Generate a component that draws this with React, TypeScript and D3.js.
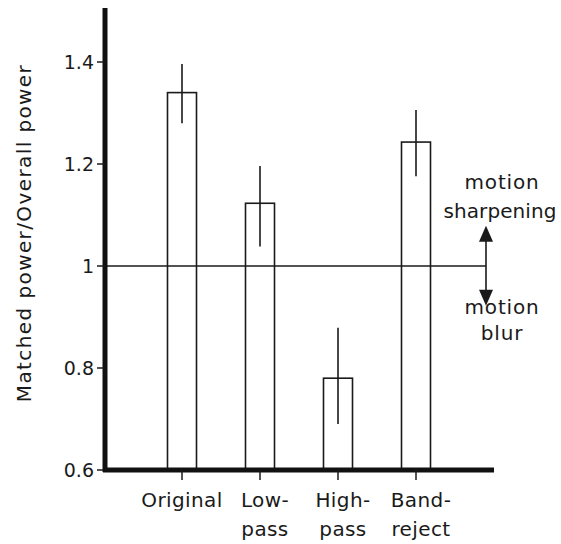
import React, { useRef, useEffect } from 'react';
import { select, scaleLinear, scalePoint } from 'd3';

// conditions and their mean ratio (matched power / overall power)
const categories = ['Original', 'Low-pass', 'High-pass', 'Band-reject'];
const labelLines = [['Original'], ['Low-', 'pass'], ['High-', 'pass'], ['Band-', 'reject']];
const means = [1.34, 1.123, 0.78, 1.243];
const errLow = [1.28, 1.038, 0.69, 1.176];
const errHigh = [1.396, 1.196, 0.879, 1.306];
const yTicks = [0.6, 0.8, 1, 1.2, 1.4];
const yTickLabels = ['0.6', '0.8', '1', '1.2', '1.4'];

const FONT = '"DejaVu Sans", sans-serif';
const INK = '#1a1a1a';

const App = () => {
  const svgRef = useRef<SVGSVGElement>(null);

  useEffect(() => {
    const svg = select(svgRef.current);
    svg.selectAll('*').remove();

    const x = scalePoint().domain(categories).range([182, 416]);
    const y = scaleLinear().domain([0.6, 1.5]).range([470, 11]);
    const barW = 29;
    const axisLeft = 105;
    const axisRight = 494;

    /* bars */
    svg.selectAll('.bar')
      .data(categories)
      .join('rect')
      .attr('class', 'bar')
      .attr('x', d => x(d)! - barW / 2)
      .attr('y', (_, i) => y(means[i]))
      .attr('width', barW)
      .attr('height', (_, i) => y(0.6) - y(means[i]))
      .attr('fill', 'white')
      .attr('stroke', INK)
      .attr('stroke-width', 1.6);

    /* error bars, no caps */
    svg.selectAll('.err')
      .data(categories)
      .join('line')
      .attr('class', 'err')
      .attr('x1', d => x(d)!)
      .attr('x2', d => x(d)!)
      .attr('y1', (_, i) => y(errLow[i]))
      .attr('y2', (_, i) => y(errHigh[i]))
      .attr('stroke', INK)
      .attr('stroke-width', 1.6);

    /* reference line at 1 */
    const refEnd = 486;
    svg.append('line')
      .attr('x1', axisLeft).attr('x2', refEnd)
      .attr('y1', y(1)).attr('y2', y(1))
      .attr('stroke', INK).attr('stroke-width', 1.5);

    /* double arrow */
    const upTip = y(1.079);
    const downTip = y(0.922);
    svg.append('line')
      .attr('x1', refEnd).attr('x2', refEnd)
      .attr('y1', upTip + 10).attr('y2', downTip - 10)
      .attr('stroke', INK).attr('stroke-width', 1.6);
    svg.append('path')
      .attr('d', `M${refEnd},${upTip} L${refEnd - 7},${upTip + 16} L${refEnd + 7},${upTip + 16} Z`)
      .attr('fill', INK);
    svg.append('path')
      .attr('d', `M${refEnd},${downTip} L${refEnd - 7},${downTip - 16} L${refEnd + 7},${downTip - 16} Z`)
      .attr('fill', INK);

    const note = (txt: string, cx: number, cy: number, ls = 0.8) =>
      svg.append('text')
        .attr('x', cx).attr('y', cy)
        .attr('text-anchor', 'middle')
        .attr('font-family', FONT).attr('font-size', 20)
        .attr('letter-spacing', ls)
        .attr('fill', INK)
        .text(txt);
    note('motion', 502, y(1.151));
    note('sharpening', 500, y(1.094), 0.1);
    note('motion', 502, y(0.906));
    note('blur', 502, y(0.855));

    /* y axis */
    svg.append('line')
      .attr('x1', axisLeft).attr('x2', axisLeft)
      .attr('y1', 8).attr('y2', y(0.6) + 2)
      .attr('stroke', '#111').attr('stroke-width', 5);
    svg.selectAll('.ytick')
      .data(yTicks)
      .join('line')
      .attr('class', 'ytick')
      .attr('x1', axisLeft - 8).attr('x2', axisLeft)
      .attr('y1', d => y(d)).attr('y2', d => y(d))
      .attr('stroke', INK).attr('stroke-width', 1.5);
    svg.selectAll('.ylab')
      .data(yTicks)
      .join('text')
      .attr('class', 'ylab')
      .attr('x', axisLeft - 11)
      .attr('y', d => y(d))
      .attr('dy', '0.36em')
      .attr('text-anchor', 'end')
      .attr('font-family', FONT).attr('font-size', 19)
      .attr('fill', INK)
      .text((_, i) => yTickLabels[i]);

    /* x axis */
    svg.append('line')
      .attr('x1', axisLeft - 2).attr('x2', axisRight)
      .attr('y1', y(0.6)).attr('y2', y(0.6))
      .attr('stroke', '#111').attr('stroke-width', 5);
    svg.selectAll('.xtick')
      .data(categories)
      .join('line')
      .attr('class', 'xtick')
      .attr('x1', d => x(d)!).attr('x2', d => x(d)!)
      .attr('y1', y(0.6)).attr('y2', y(0.6) + 10)
      .attr('stroke', INK).attr('stroke-width', 1.5);
    const xl = svg.selectAll('.xlab')
      .data(categories)
      .join('text')
      .attr('class', 'xlab')
      .attr('text-anchor', 'middle')
      .attr('font-family', FONT).attr('font-size', 20)
      .attr('letter-spacing', 0.4)
      .attr('fill', INK);
    xl.selectAll('tspan')
      .data((_, i) => labelLines[i].map(t => ({ t, i })))
      .join('tspan')
      .attr('x', d => x(categories[d.i])! + (d.i === 0 ? 0 : 5))
      .attr('y', (_, j) => 507 + j * 29)
      .text(d => d.t);

    /* y title */
    svg.append('text')
      .attr('transform', `translate(31,${233}) rotate(-90)`)
      .attr('text-anchor', 'middle')
      .attr('font-family', FONT).attr('font-size', 20)
      .attr('letter-spacing', 1.4)
      .attr('fill', INK)
      .text('Matched power/Overall power');
  }, []);

  return (
    <div style={{ position: 'absolute', left: 0, top: 0 }}>
      <svg ref={svgRef} width={561} height={544} style={{ display: 'block', background: 'white' }} />
    </div>
  );
};

export default App;
